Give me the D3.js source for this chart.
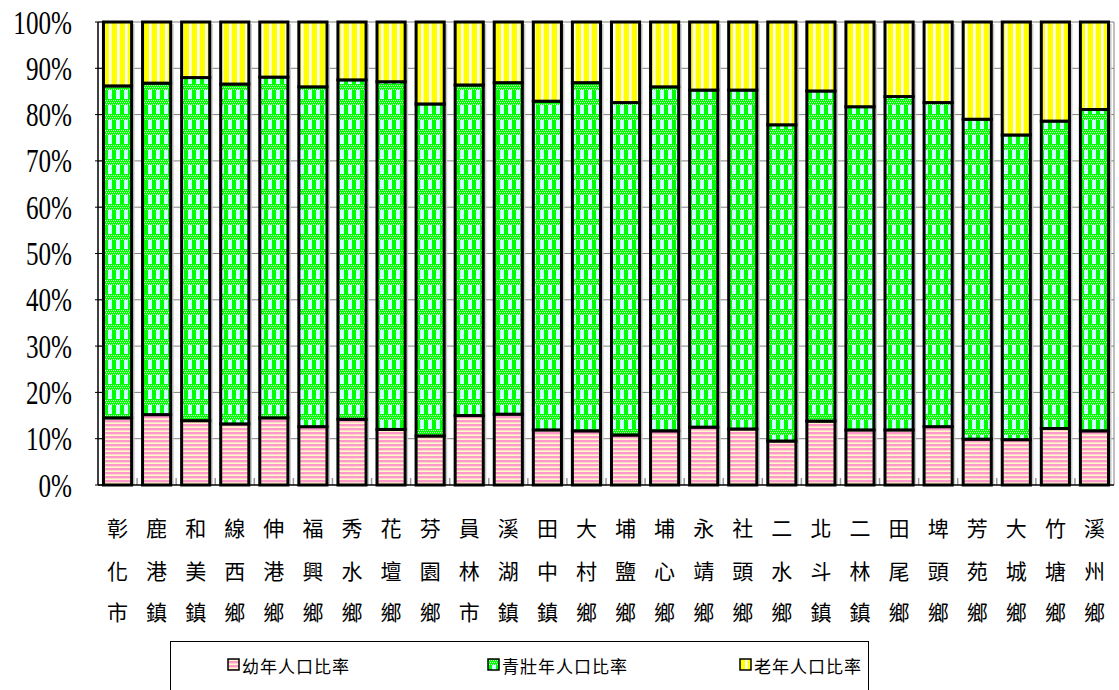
<!DOCTYPE html>
<meta charset="utf-8">
<style>
  body { margin: 0; background: #fff; }
  .ylab { font-family: "Liberation Serif", "DejaVu Serif", serif; font-size: 34px; fill: #000; }
  .xlab { font-family: "Noto Sans CJK TC", sans-serif; font-size: 21px; fill: #000; }
  .leg { font-family: "Noto Sans CJK TC", sans-serif; font-size: 17px; fill: #000; }
</style>
<svg width="1119" height="690"></svg>
<script src="https://d3js.org/d3.v7.min.js"></script>
<script>
// towns of Changhua county (three characters each, drawn top to bottom)
var towns = ["彰化市","鹿港鎮","和美鎮","線西鄉","伸港鄉","福興鄉","秀水鄉","花壇鄉","芬園鄉","員林市","溪湖鎮","田中鎮","大村鄉",
             "埔鹽鄉","埔心鄉","永靖鄉","社頭鄉","二水鄉","北斗鎮","二林鎮","田尾鄉","埤頭鄉","芳苑鄉","大城鄉","竹塘鄉","溪州鄉"];
// shares in percent
var young   = [14.5,15.2,13.9,13.2,14.5,12.6,14.2,12.0,10.6,15.0,15.3,11.9,11.7,10.8,11.7,12.5,12.1,9.5,13.8,11.9,11.9,12.6,9.9,9.8,12.2,11.7];
var working = [71.7,71.6,74.1,73.4,73.6,73.4,73.3,75.1,71.7,71.4,71.6,71.0,75.2,71.8,74.3,72.8,73.2,68.3,71.3,69.8,72.0,70.0,69.1,65.8,66.4,69.4];
var elder   = [13.8,13.2,12.0,13.4,11.9,14.0,12.5,12.9,17.7,13.6,13.1,17.1,13.1,17.4,14.0,14.7,14.7,22.2,14.9,18.3,16.1,17.4,21.0,24.4,21.4,18.9];
var seriesNames = ["幼年人口比率","青壯年人口比率","老年人口比率"];
var yTicks = [0,10,20,30,40,50,60,70,80,90,100];

var svg = d3.select("svg");
var left = 98, plotTop = 22, plotW = 1016, plotH = 463;

// fill patterns
var defs = svg.append("defs");
var pPink = defs.append("pattern").attr("id", "pat0").attr("patternUnits", "userSpaceOnUse")
    .attr("width", 4).attr("height", 4);
pPink.append("rect").attr("width", 4).attr("height", 4).attr("fill", "#fff8c8");
pPink.append("rect").attr("width", 4).attr("height", 2).attr("fill", "#ff99cc");
pPink.append("rect").attr("y", 2).attr("width", 4).attr("height", 0.6).attr("fill", "#ffc0d0");

var pGreen = defs.append("pattern").attr("id", "pat1").attr("patternUnits", "userSpaceOnUse")
    .attr("width", 8).attr("height", 15);
pGreen.append("rect").attr("width", 8).attr("height", 15).attr("fill", "#ccffff");
pGreen.append("rect").attr("x", 0).attr("y", 0).attr("width", 4).attr("height", 9).attr("fill", "#00ff00");
pGreen.append("rect").attr("x", 0).attr("y", 9).attr("width", 8).attr("height", 6).attr("fill", "#00ff00");
[[1,10],[3,10],[5,10],[7,10],[0,12],[2,12],[4,12],[6,12],[1,14],[5,14],[3,14],[7,14]].forEach(function(p) {
  pGreen.append("rect").attr("x", p[0]).attr("y", p[1]).attr("width", 1).attr("height", 1).attr("fill", "#ccffcc");
});

var pYellow = defs.append("pattern").attr("id", "pat2").attr("patternUnits", "userSpaceOnUse")
    .attr("width", 8).attr("height", 8);
pYellow.append("rect").attr("width", 8).attr("height", 8).attr("fill", "#ffff00");
pYellow.append("rect").attr("x", 5).attr("width", 2.5).attr("height", 8).attr("fill", "#ffffff");

var x = d3.scaleBand().domain(towns).range([left, left + plotW]).paddingInner(0.28).paddingOuter(0.14);
var y = d3.scaleLinear().domain([0, 100]).range([plotTop + plotH, plotTop]);

// gridlines
svg.append("g").selectAll("line").data(yTicks.slice(1)).join("line")
    .attr("x1", left).attr("x2", left + plotW)
    .attr("y1", function(d) { return y(d); }).attr("y2", function(d) { return y(d); })
    .attr("stroke", "#808080").attr("stroke-width", 1);
svg.append("line").attr("x1", left + plotW).attr("x2", left + plotW).attr("y1", plotTop).attr("y2", plotTop + plotH)
    .attr("stroke", "#808080");

// x ticks between categories
svg.append("g").selectAll("line").data(towns.slice(1)).join("line")
    .attr("x1", function(d) { return x(d) - x.step() * x.paddingInner() / 2; })
    .attr("x2", function(d) { return x(d) - x.step() * x.paddingInner() / 2; })
    .attr("y1", plotTop + plotH - 7).attr("y2", plotTop + plotH)
    .attr("stroke", "#999").attr("stroke-width", 1.5);

var rows = towns.map(function(t, i) { return {town: t, a: young[i], b: working[i], c: elder[i]}; });
var stacked = d3.stack().keys(["a", "b", "c"])(rows);

// light shadow to the right of each bar
svg.append("g").selectAll("rect").data(towns).join("rect")
    .attr("x", function(d) { return x(d) + x.bandwidth() + 1.5; })
    .attr("y", plotTop + 2).attr("width", 1.5).attr("height", plotH - 2)
    .attr("fill", "#c8c8c8");

svg.append("g").selectAll("g").data(stacked).join("g")
    .attr("fill", function(d, i) { return "url(#pat" + i + ")"; })
  .selectAll("rect").data(function(d) { return d; }).join("rect")
    .attr("x", function(d) { return x(d.data.town); })
    .attr("y", function(d) { return y(d[1]); })
    .attr("width", x.bandwidth())
    .attr("height", function(d) { return y(d[0]) - y(d[1]); })
    .attr("stroke", "#000").attr("stroke-width", 3);

// axes lines
svg.append("line").attr("x1", left).attr("x2", left).attr("y1", plotTop).attr("y2", plotTop + plotH)
    .attr("stroke", "#000").attr("stroke-width", 1.5);
svg.append("line").attr("x1", left).attr("x2", left + plotW).attr("y1", plotTop + plotH).attr("y2", plotTop + plotH)
    .attr("stroke", "#000").attr("stroke-width", 1.5);
svg.append("g").selectAll("line").data(yTicks).join("line")
    .attr("x1", left - 3).attr("x2", left + 6)
    .attr("y1", function(d) { return y(d); }).attr("y2", function(d) { return y(d); })
    .attr("stroke", "#000").attr("stroke-width", 1);

// y labels (tall, narrow serif digits)
svg.append("g").selectAll("g").data(yTicks).join("g")
    .attr("transform", function(d) { return "translate(72," + (y(d) + 11.5) + ") scale(0.74,1)"; })
  .append("text").attr("class", "ylab").attr("text-anchor", "end")
    .text(function(d) { return d + "%"; });

// x labels, one character per row
var rowY = [527, 570, 611];
var xl = svg.append("g").selectAll("g").data(towns).join("g")
    .attr("transform", function(d) { return "translate(" + (x(d) + x.bandwidth() / 2) + ",0)"; });
xl.selectAll("text").data(function(d) { return d.split(""); }).join("text")
    .attr("class", "xlab").attr("text-anchor", "middle")
    .attr("y", function(d, i) { return rowY[i]; })
    .attr("dominant-baseline", "central")
    .text(function(d) { return d; });

// legend
svg.append("rect").attr("x", 170.5).attr("y", 641.5).attr("width", 698).attr("height", 60)
    .attr("fill", "#fff").attr("stroke", "#000").attr("stroke-width", 1);
var legX = [228, 488, 740];
var leg = svg.append("g").selectAll("g").data(seriesNames).join("g")
    .attr("transform", function(d, i) { return "translate(" + legX[i] + ",665)"; });
leg.append("rect").attr("x", 0).attr("y", -6).attr("width", 11).attr("height", 11)
    .attr("fill", function(d, i) { return "url(#pat" + i + ")"; })
    .attr("stroke", "#000").attr("stroke-width", 1.5);
leg.append("text").attr("class", "leg").attr("x", 14).attr("dominant-baseline", "central")
    .attr("letter-spacing", 1)
    .text(function(d) { return d; });
</script>
